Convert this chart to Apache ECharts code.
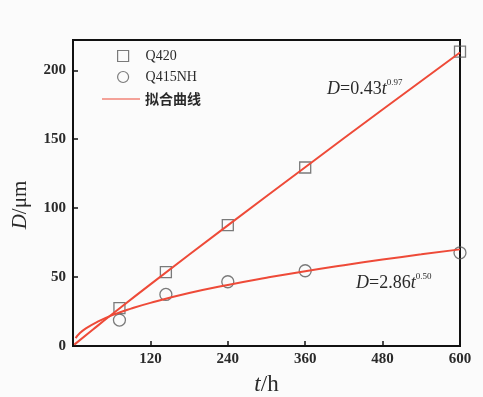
<!DOCTYPE html>
<html>
<head>
<meta charset="utf-8">
<script src="https://cdn.jsdelivr.net/npm/echarts@6/dist/echarts.min.js"></script>
<style>
  html, body { margin: 0; padding: 0; background: #fbfbfb; }
  #container { width: 483px; height: 397px; }
</style>
</head>
<body>
<div id="container"></div>
<script>
const container = document.getElementById('container');
const chartIns = echarts.init(container, undefined, { renderer: 'canvas' });

// 实测点 (t/h, D/μm)
const timeQ420 = [72, 144, 240, 360, 600];
const dQ420 = [27.5, 53.6, 87.7, 129.5, 213.5];
const timeQ415 = [72, 144, 240, 360, 600];
const dQ415 = [18.8, 37.4, 46.6, 54.6, 67.6];

// 拟合曲线
const fitTime1 = [2, 30, 60, 120, 240, 360, 480, 600];
const fitD1 = [1.0, 11.6, 22.8, 44.7, 87.5, 129.7, 171.6, 212.9];
const fitTime2 = [4, 10, 20, 40, 60, 90, 120, 180, 240, 300, 360, 420, 480, 540, 600];
const fitD2 = [5.7, 9.0, 12.8, 18.1, 22.2, 27.1, 31.3, 38.4, 44.3, 49.5, 54.3, 58.6, 62.7, 66.5, 70.1];

const xTicks = [0, 120, 240, 360, 480, 600];
const yTicks = [0, 50, 100, 150, 200];

const lineColor = '#ee4a38';
const markColor = '#5a5a5a';
const textColor = '#2a2a2a';
const serif = 'Liberation Serif';

const zip = (a, b) => a.map((v, i) => [v, b[i]]);

const legendBase = {
  orient: 'vertical',
  selectedMode: false,
  textStyle: { fontFamily: serif, fontSize: 14, color: textColor, padding: [0, 0, 0, 12] }
};

const eqRich = {
  i: { fontFamily: serif, fontSize: 18, fontStyle: 'italic', fill: textColor, verticalAlign: 'bottom', lineHeight: 20 },
  n: { fontFamily: serif, fontSize: 18, fill: textColor, verticalAlign: 'bottom', lineHeight: 20 },
  s: { fontFamily: serif, fontSize: 9, fill: textColor, verticalAlign: 'top', lineHeight: 20 }
};

const option = {
  backgroundColor: '#fbfbfb',
  animation: false,
  grid: {
    left: 73, right: 23, top: 40, bottom: 51,
    outerBoundsMode: 'none',
    containLabel: false,
    show: true, borderColor: '#111', borderWidth: 2
  },
  legend: [
    Object.assign({}, legendBase, {
      left: 112, top: 44, itemWidth: 11, itemHeight: 11,
      data: [{ name: 'Q420', icon: 'rect', itemStyle: { color: 'rgba(0,0,0,0)', borderColor: markColor, borderWidth: 1.2 } }]
    }),
    Object.assign({}, legendBase, {
      left: 112, top: 65, itemWidth: 11, itemHeight: 11,
      data: [{ name: 'Q415NH', icon: 'circle', itemStyle: { color: 'rgba(0,0,0,0)', borderColor: markColor, borderWidth: 1.2 } }]
    }),
    Object.assign({}, legendBase, {
      left: 97, top: 87, itemWidth: 38, itemHeight: 12,
      textStyle: { fontFamily: 'Noto Sans CJK SC', fontSize: 14, fontWeight: 'bold', color: textColor },
      data: [{ name: '拟合曲线', icon: 'path://M0,5.5L38,5.5L38,6.5L0,6.5Z', itemStyle: { color: lineColor } }]
    })
  ],
  xAxis: {
    type: 'value',
    min: 0, max: 600, interval: 120,
    name: '{i|t}/h',
    nameLocation: 'middle',
    nameGap: 27,
    nameTextStyle: {
      fontFamily: serif, fontSize: 23, color: textColor,
      rich: { i: { fontFamily: serif, fontSize: 23, fontStyle: 'italic', color: textColor } }
    },
    axisLine: { show: true, lineStyle: { color: '#111', width: 2 } },
    axisTick: { show: true, inside: true, length: 5, lineStyle: { color: '#111', width: 1.5 } },
    axisLabel: {
      showMinLabel: false,
      margin: 6,
      fontFamily: serif, fontSize: 15, fontWeight: 'bold', color: textColor,
      formatter: v => xTicks.includes(v) ? String(v) : ''
    },
    splitLine: { show: false }
  },
  yAxis: {
    type: 'value',
    min: 0, max: 222, interval: 50,
    name: '{i|D}/μm',
    nameLocation: 'middle',
    nameGap: 42,
    nameRotate: 90,
    nameTextStyle: {
      fontFamily: serif, fontSize: 21, color: textColor,
      padding: [0, 24, 0, 0],
      rich: { i: { fontFamily: serif, fontSize: 21, fontStyle: 'italic', color: textColor } }
    },
    axisLine: { show: true, lineStyle: { color: '#111', width: 2 } },
    axisTick: { show: true, inside: true, length: 5, lineStyle: { color: '#111', width: 1.5 } },
    axisLabel: {
      showMaxLabel: false,
      margin: 7,
      fontFamily: serif, fontSize: 15, fontWeight: 'bold', color: textColor,
      formatter: v => yTicks.includes(v) ? String(v) : ''
    },
    splitLine: { show: false }
  },
  graphic: [
    {
      type: 'text', left: 327, top: 78, z: 100,
      style: { text: '{i|D}{n|=0.43}{i|t}{s|0.97}', rich: eqRich }
    },
    {
      type: 'text', left: 356, top: 272, z: 100,
      style: { text: '{i|D}{n|=2.86}{i|t}{s|0.50}', rich: eqRich }
    }
  ],
  series: [
    {
      name: '拟合曲线', type: 'line', data: zip(fitTime1, fitD1),
      showSymbol: false, smooth: true, lineStyle: { color: lineColor, width: 2 }, itemStyle: { color: lineColor }, z: 3
    },
    {
      name: '拟合曲线', type: 'line', data: zip(fitTime2, fitD2),
      showSymbol: false, smooth: true, lineStyle: { color: lineColor, width: 2 }, itemStyle: { color: lineColor }, z: 3
    },
    {
      name: 'Q420', type: 'scatter', symbol: 'rect', symbolSize: 11,
      data: zip(timeQ420, dQ420),
      itemStyle: { color: 'rgba(0,0,0,0)', borderColor: markColor, borderWidth: 1.3 }, z: 2
    },
    {
      name: 'Q415NH', type: 'scatter', symbol: 'circle', symbolSize: 12,
      data: zip(timeQ415, dQ415),
      itemStyle: { color: 'rgba(0,0,0,0)', borderColor: markColor, borderWidth: 1.3 }, z: 2
    }
  ]
};

chartIns.setOption(option);
</script>
</body>
</html>
